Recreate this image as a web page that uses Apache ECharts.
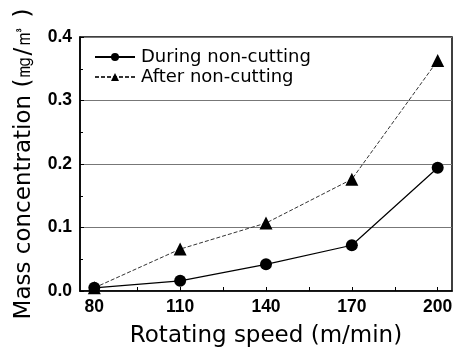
<!DOCTYPE html>
<html>
<head>
<meta charset="utf-8">
<script src="https://cdn.jsdelivr.net/npm/echarts@6/dist/echarts.min.js"></script>
<style>
html,body{margin:0;padding:0;background:#fff;}
#chart{width:462px;height:353px;}
</style>
</head>
<body>
<div id="chart"></div>
<script>
const speeds = [80, 110, 140, 170, 200];
const duringValues = [0.005, 0.016, 0.042, 0.072, 0.194];
const afterValues = [0.005, 0.066, 0.107, 0.176, 0.363];
const xTickLabels = [80, 110, 140, 170, 200];
const xTicks = [80, 95, 110, 125, 140, 155, 170, 185, 200];
const seriesNames = ['During non-cutting', 'After non-cutting'];

const pairs = (xs, ys) => xs.map((x, i) => [x, ys[i]]);

const chart = echarts.init(document.getElementById('chart'), null, {renderer: 'canvas'});
chart.setOption({
  animation: false,
  backgroundColor: '#fff',
  textStyle: {fontFamily: 'DejaVu Sans'},
  grid: {left: 80, right: 10, top: 37, bottom: 60, show: true, borderColor: '#000', borderWidth: 1.5},
  legend: {
    left: 89, top: 43, orient: 'vertical', itemGap: 2,
    itemWidth: 40, itemHeight: 10,
    textStyle: {fontFamily: 'DejaVu Sans', fontSize: 18, color: '#000', padding: [0,0,0,1]},
    data: seriesNames
  },
  xAxis: {
    type: 'value', min: 75, max: 205,
    name: 'Rotating speed (m/min)', nameLocation: 'middle', nameGap: 34,
    nameTextStyle: {fontFamily: 'DejaVu Sans', fontSize: 23, color: '#000'},
    axisLine: {lineStyle: {color: '#000', width: 1.5}},
    axisTick: {inside: true, length: 4, customValues: xTicks, lineStyle: {color: '#000'}},
    axisLabel: {customValues: xTickLabels, margin: 7, fontFamily: 'Liberation Sans', fontWeight: 'bold', fontSize: 17.5, color: '#000'},
    splitLine: {show: false}
  },
  yAxis: {
    type: 'value', min: 0, max: 0.4, interval: 0.1,
    name: 'Mass concentration (㎎/㎥ )', nameLocation: 'middle', nameGap: 44,
    nameTextStyle: {fontFamily: 'DejaVu Sans', fontSize: 23, color: '#000'},
    axisLine: {lineStyle: {color: '#000', width: 1.5}},
    axisTick: {inside: true, length: 4, lineStyle: {color: '#000'}},
    minorTick: {show: true, splitNumber: 2, length: 3, lineStyle: {color: '#000'}},
    axisLabel: {margin: 8, fontFamily: 'Liberation Sans', fontWeight: 'bold', fontSize: 17.5, color: '#000',
      formatter: v => v.toFixed(1)},
    splitLine: {show: true, lineStyle: {color: '#777', width: 1}}
  },
  series: [
    {
      name: seriesNames[0], type: 'line', data: pairs(speeds, duringValues),
      symbol: 'circle', symbolSize: 12,
      lineStyle: {color: '#000', width: 1.2},
      itemStyle: {color: '#000'}
    },
    {
      name: seriesNames[1], type: 'line', data: pairs(speeds, afterValues),
      symbol: 'triangle', symbolSize: 13,
      lineStyle: {color: '#333', width: 1, type: [4, 2]},
      itemStyle: {color: '#000'}
    }
  ]
});
</script>
</body>
</html>
